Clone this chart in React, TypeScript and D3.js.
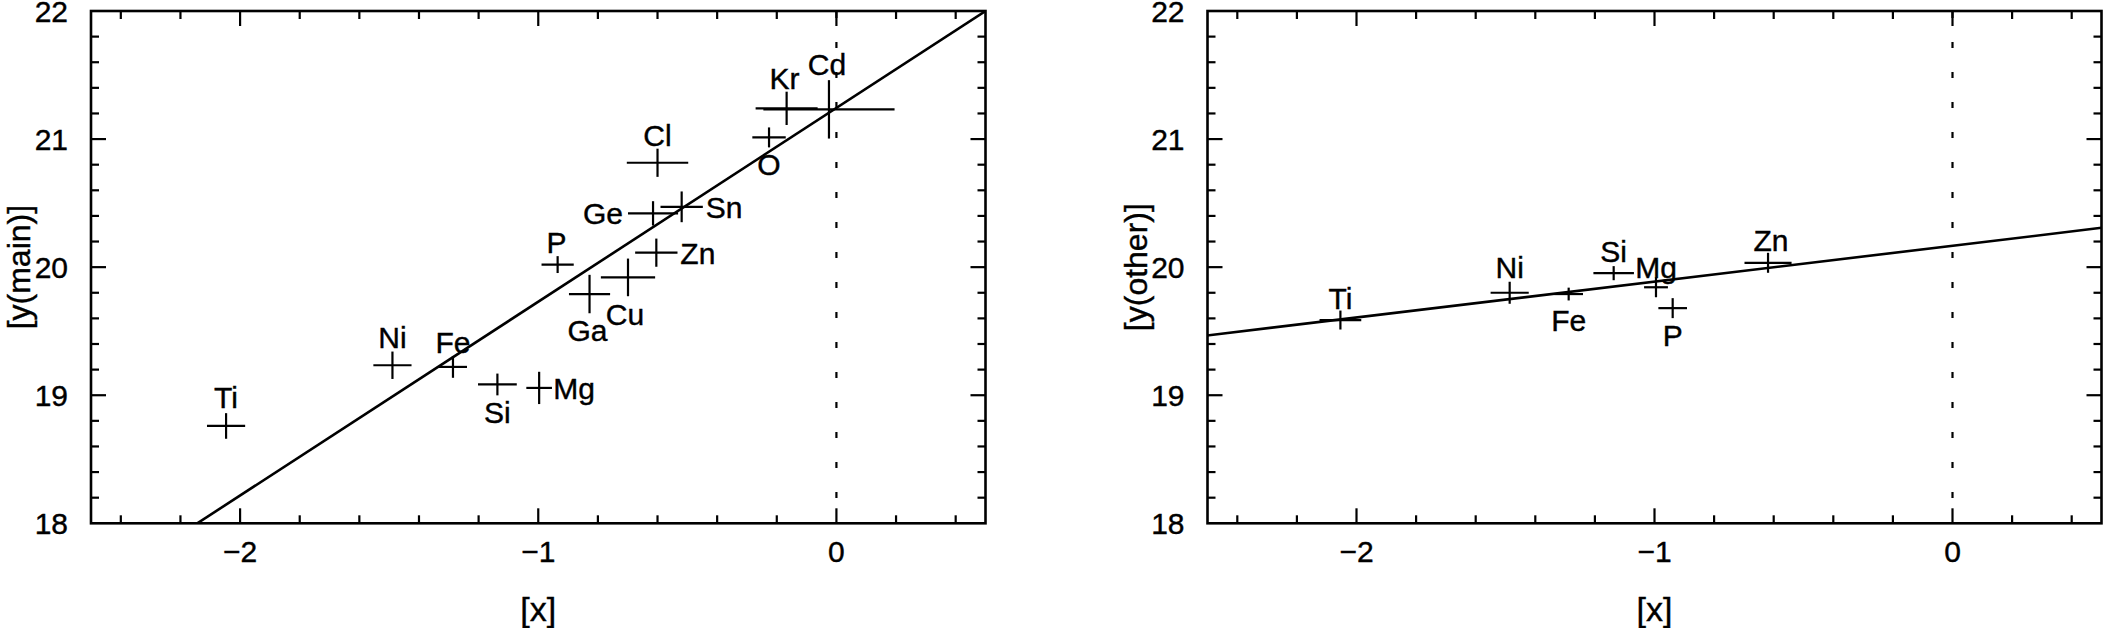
import React from 'react';
import * as d3 from 'd3';

// ---------- data ----------
const mainNames = ['Ti', 'Ni', 'Fe', 'Si', 'Mg', 'P', 'Ga', 'Cu', 'Zn', 'Ge', 'Sn', 'Cl', 'O', 'Kr', 'Cd'];
const mainX = [-2.047, -1.489, -1.286, -1.137, -0.997, -0.935, -0.828, -0.699, -0.604, -0.615, -0.519, -0.600, -0.226, -0.167, -0.025];
const mainY = [18.76, 19.234, 19.221, 19.084, 19.057, 20.02, 19.79, 19.92, 20.113, 20.42, 20.471, 20.815, 21.013, 21.24, 21.232];
const mainXErr = [0.064, 0.064, 0.047, 0.065, 0.043, 0.054, 0.069, 0.091, 0.071, 0.084, 0.071, 0.103, 0.056, 0.104, 0.22];
const mainYErr = [0.1, 0.107, 0.085, 0.085, 0.126, 0.066, 0.15, 0.147, 0.11, 0.095, 0.12, 0.11, 0.078, 0.13, 0.228];

const otherNames = ['Ti', 'Ni', 'Fe', 'Si', 'Mg', 'P', 'Zn'];
const otherX = [-2.054, -1.486, -1.288, -1.137, -0.995, -0.939, -0.619];
const otherY = [19.587, 19.8, 19.79, 19.953, 19.843, 19.68, 20.034];
const otherXErr = [0.07, 0.064, 0.048, 0.068, 0.04, 0.048, 0.079];
const otherYErr = [0.074, 0.086, 0.05, 0.055, 0.078, 0.078, 0.078];

// fitted lines: y = intercept + slope * x
const mainFit = { slope: 1.513, intercept: 21.243 };
const otherFit = { slope: 0.28, intercept: 20.167 };

const xDomain = [-2.5, 0.5];
const yDomain = [18, 22];
const xMajorTicks = [-2, -1, 0];
const xTickLabels = ['\u22122', '\u22121', '0'];
const yMajorTicks = [18, 19, 20, 21, 22];
const yTickLabels = ['18', '19', '20', '21', '22'];

// ---------- label layout (anchor, dx, dy in px relative to point) ----------
type Lab = [string, number, number];
const mainLabelLayout: Lab[] = [
  ['middle', 0, -29], ['middle', 0, -28], ['middle', 0, -25], ['middle', 0, 27], ['start', 14, 0],
  ['middle', -1, -23], ['middle', -2, 36], ['middle', -3, 37], ['start', 24, 0], ['end', -30, 0],
  ['start', 24, 0], ['middle', 0, -28], ['middle', 0, 26], ['middle', -2, -30], ['middle', -2, -45],
];
const otherLabelLayout: Lab[] = [
  ['middle', 0, -22], ['middle', 0, -26], ['middle', 0, 26], ['middle', 0, -22], ['middle', 0, -20],
  ['middle', 0, 27], ['middle', 3, -23],
];

const FONT = '"Liberation Sans", Arial, sans-serif';
const FS = 30;
const CAP = FS * 0.74;
const AFS = 32;

interface PanelProps {
  x0: number; x1: number; y0: number; y1: number;
  names: string[]; xs: number[]; ys: number[]; xe: number[]; ye: number[];
  fit: { slope: number; intercept: number };
  layout: Lab[];
  ylabel: string;
  id: string;
}

function Panel(p: PanelProps) {
  const x = d3.scaleLinear().domain(xDomain).range([p.x0, p.x1]);
  const y = d3.scaleLinear().domain(yDomain).range([p.y1, p.y0]);
  const minorX = d3.range(-24, 5, 2).map((v) => v / 10);
  const minorY = d3.range(182, 220, 2).map((v) => v / 10);
  const line = d3.line<number>().x((v) => x(v)).y((v) => y(p.fit.intercept + p.fit.slope * v));
  const fitPts = [xDomain[0] - 1, xDomain[1]];
  const minorLen = 8, majorLen = 15;
  const sw = 2.2;
  const txt = { fontFamily: FONT, fill: '#000', stroke: '#000', strokeWidth: 0.4 };
  return (
    <g>
      <defs>
        <clipPath id={p.id}>
          <rect x={p.x0} y={p.y0} width={p.x1 - p.x0} height={p.y1 - p.y0} />
        </clipPath>
      </defs>
      <line x1={x(0)} x2={x(0)} y1={p.y0} y2={p.y1} stroke="#000" strokeWidth={2.2} strokeDasharray="6 24" strokeDashoffset={-1} />
      <path d={line(fitPts) || ''} fill="none" stroke="#000" strokeWidth={2.6} clipPath={`url(#${p.id})`} />
      {p.names.map((n, i) => (
        <g key={n} stroke="#000" strokeWidth={sw}>
          <line x1={x(p.xs[i] - p.xe[i])} x2={x(p.xs[i] + p.xe[i])} y1={y(p.ys[i])} y2={y(p.ys[i])} />
          <line x1={x(p.xs[i])} x2={x(p.xs[i])} y1={y(p.ys[i] - p.ye[i])} y2={y(p.ys[i] + p.ye[i])} />
        </g>
      ))}
      {p.names.map((n, i) => {
        const [anchor, dx, dy] = p.layout[i];
        return (
          <text key={'l' + n} x={x(p.xs[i]) + dx} y={y(p.ys[i]) + dy + CAP / 2} textAnchor={anchor as any}
            fontSize={FS} {...txt}>{n}</text>
        );
      })}
      {minorX.map((v) => {
        const major = xMajorTicks.some((m) => Math.abs(m - v) < 1e-6);
        const L = major ? majorLen : minorLen;
        return (
          <g key={'tx' + v} stroke="#000" strokeWidth={sw}>
            <line x1={x(v)} x2={x(v)} y1={p.y1} y2={p.y1 - L} />
            <line x1={x(v)} x2={x(v)} y1={p.y0} y2={p.y0 + L} />
          </g>
        );
      })}
      {minorY.map((v) => {
        const major = yMajorTicks.some((m) => Math.abs(m - v) < 1e-6);
        const L = major ? majorLen : minorLen;
        return (
          <g key={'ty' + v} stroke="#000" strokeWidth={sw}>
            <line x1={p.x0} x2={p.x0 + L} y1={y(v)} y2={y(v)} />
            <line x1={p.x1} x2={p.x1 - L} y1={y(v)} y2={y(v)} />
          </g>
        );
      })}
      <rect x={p.x0} y={p.y0} width={p.x1 - p.x0} height={p.y1 - p.y0} fill="none" stroke="#000" strokeWidth={2.6} />
      {xMajorTicks.map((v, i) => (
        <text key={'xl' + v} x={x(v)} y={562} textAnchor="middle" fontSize={FS} {...txt}>{xTickLabels[i]}</text>
      ))}
      {yMajorTicks.map((v, i) => (
        <text key={'yl' + v} x={p.x0 - 23} y={y(v) + CAP / 2} textAnchor="end" fontSize={FS} {...txt}>{yTickLabels[i]}</text>
      ))}
      <text x={(p.x0 + p.x1) / 2} y={621} textAnchor="middle" fontSize={34} {...txt}>[x]</text>
      <text transform={`translate(${p.x0 - 61},${(p.y0 + p.y1) / 2}) rotate(-90)`} textAnchor="middle" fontSize={AFS} {...txt}>{p.ylabel}</text>
    </g>
  );
}

export default function App() {
  return (
    <svg width={2103} height={628} style={{ position: 'absolute', left: 0, top: 0, background: '#fff' }}>
      <rect width={2103} height={628} fill="#fff" />
      <Panel id="c1" x0={91} x1={985.5} y0={11} y1={523.3}
        names={mainNames} xs={mainX} ys={mainY} xe={mainXErr} ye={mainYErr}
        fit={mainFit} layout={mainLabelLayout} ylabel="[y(main)]" />
      <Panel id="c2" x0={1207.5} x1={2101.5} y0={11} y1={523.3}
        names={otherNames} xs={otherX} ys={otherY} xe={otherXErr} ye={otherYErr}
        fit={otherFit} layout={otherLabelLayout} ylabel="[y(other)]" />
    </svg>
  );
}
